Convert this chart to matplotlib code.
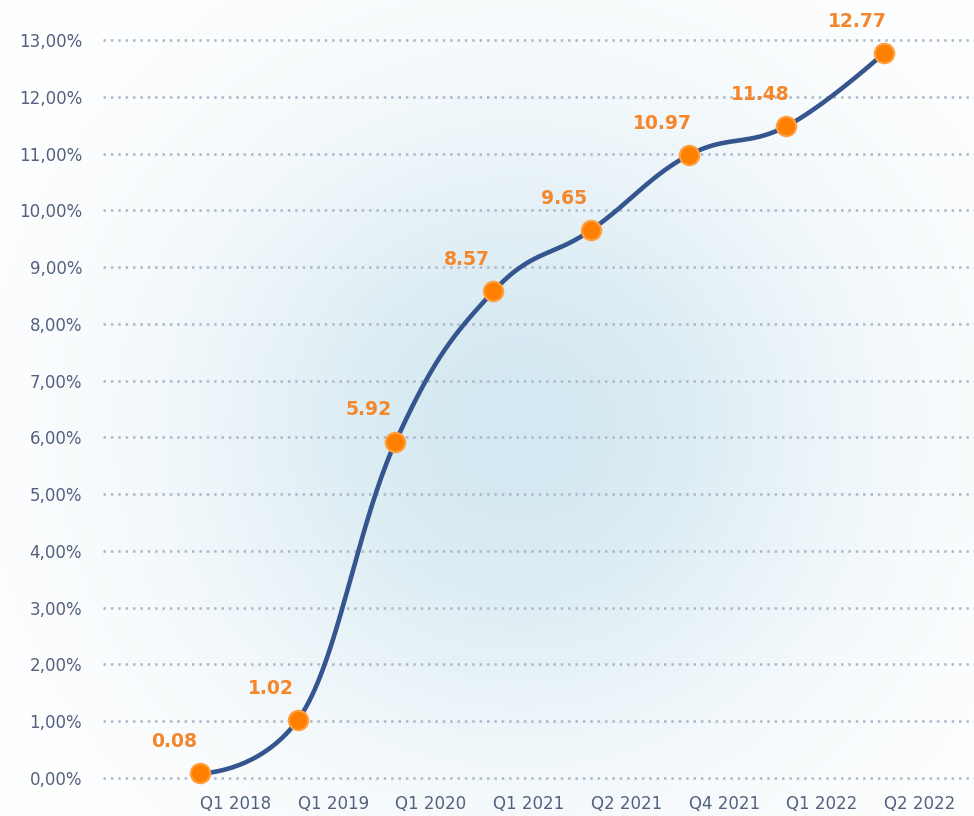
import numpy as np
import matplotlib
matplotlib.use("Agg")
import matplotlib.pyplot as plt

quarters = ['Q1 2018', 'Q1 2019', 'Q1 2020', 'Q1 2021', 'Q2 2021', 'Q4 2021', 'Q1 2022', 'Q2 2022']
values = [0.08, 1.02, 5.92, 8.57, 9.65, 10.97, 11.48, 12.77]
y_ticks = list(range(0, 14))

line_color = '#35558f'
dot_color = '#ff7f00'
text_orange = '#f5862a'
tick_color = '#53617e'
grid_color = '#aeb7c8'


def spline_curve(x, y, smoothing=1.5, n=40):
    # highcharts style spline, only used to draw the line between the points
    x = np.asarray(x, float)
    y = np.asarray(y, float)
    k = len(x)
    left = [None] * k
    right = [None] * k
    den = smoothing + 1
    for i in range(1, k - 1):
        lx = (smoothing * x[i] + x[i - 1]) / den
        ly = (smoothing * y[i] + y[i - 1]) / den
        rx = (smoothing * x[i] + x[i + 1]) / den
        ry = (smoothing * y[i] + y[i + 1]) / den
        corr = (ry - ly) * (rx - x[i]) / (rx - lx) + y[i] - ry
        ly += corr
        ry += corr
        if ly > y[i - 1] and ly > y[i]:
            ly = max(y[i - 1], y[i])
            ry = 2 * y[i] - ly
        elif ly < y[i - 1] and ly < y[i]:
            ly = min(y[i - 1], y[i])
            ry = 2 * y[i] - ly
        if ry > y[i + 1] and ry > y[i]:
            ry = max(y[i + 1], y[i])
            ly = 2 * y[i] - ry
        elif ry < y[i + 1] and ry < y[i]:
            ry = min(y[i + 1], y[i])
            ly = 2 * y[i] - ry
        left[i] = (lx, ly)
        right[i] = (rx, ry)
    xs, ys = [], []
    t = np.linspace(0, 1, n)
    for i in range(k - 1):
        p0 = (x[i], y[i])
        p3 = (x[i + 1], y[i + 1])
        p1 = right[i] if right[i] else p0
        p2 = left[i + 1] if left[i + 1] else p3
        for arr, j in ((xs, 0), (ys, 1)):
            arr.append((1 - t) ** 3 * p0[j] + 3 * (1 - t) ** 2 * t * p1[j]
                       + 3 * (1 - t) * t ** 2 * p2[j] + t ** 3 * p3[j])
    return np.concatenate(xs), np.concatenate(ys)


fig = plt.figure(figsize=(9.74, 8.16), dpi=100)

# soft blue radial glow behind the chart
bg = fig.add_axes([0, 0, 1, 1], zorder=0)
gx, gy = np.meshgrid(np.linspace(0, 974, 487), np.linspace(0, 816, 408))
r = np.sqrt(((gx - 520) / 420) ** 2 + ((gy - 430) / 400) ** 2)
a = np.clip(np.exp(-1.6 * r ** 2), 0, 1)
c0 = np.array([1.0, 1.0, 1.0])
c1 = np.array([0.83, 0.91, 0.945])
img = c0[None, None, :] * (1 - a[..., None]) + c1[None, None, :] * a[..., None]
bg.imshow(img, extent=[0, 974, 816, 0], aspect='auto')
bg.set_xlim(0, 974)
bg.set_ylim(816, 0)
bg.axis('off')

ax = fig.add_axes([103 / 974, (816 - 786.5) / 816, 1 - 103 / 974, (786.5 - 11.6) / 816], zorder=1)
ax.patch.set_alpha(0)

x = np.arange(len(values))
xs, ys = spline_curve(x, values)
ax.plot(xs, ys, color=line_color, linewidth=3.3, solid_capstyle='round', zorder=3)
ax.plot(x, values, 'o', color=dot_color, markersize=14, markeredgewidth=1.5,
        markeredgecolor='#ffa040', zorder=4)

for xi, v in zip(x, values):
    ax.annotate(f'{v:.2f}', (xi, v), xytext=(-19, 23), textcoords='offset points',
                ha='center', va='center', color=text_orange, fontsize=13.5,
                fontweight='bold', zorder=5, annotation_clip=False)

ax.set_xlim(-0.993, 7.92)
ax.set_ylim(-0.15, 13.5)
ax.set_yticks(y_ticks)
ax.set_yticklabels([f'{t},00%' for t in y_ticks])
ax.set_xticks(x)
ax.set_xticklabels(quarters, ha='left')
ax.tick_params(axis='y', length=0, pad=15, labelsize=12, labelcolor=tick_color)
ax.tick_params(axis='x', length=0, pad=6, labelsize=12, labelcolor=tick_color)
ax.grid(axis='y', color=grid_color, linewidth=1.8, linestyle=(0, (1.0, 1.95)))
ax.set_axisbelow(True)
for s in ax.spines.values():
    s.set_visible(False)

fig.savefig('out.png', dpi=100)
